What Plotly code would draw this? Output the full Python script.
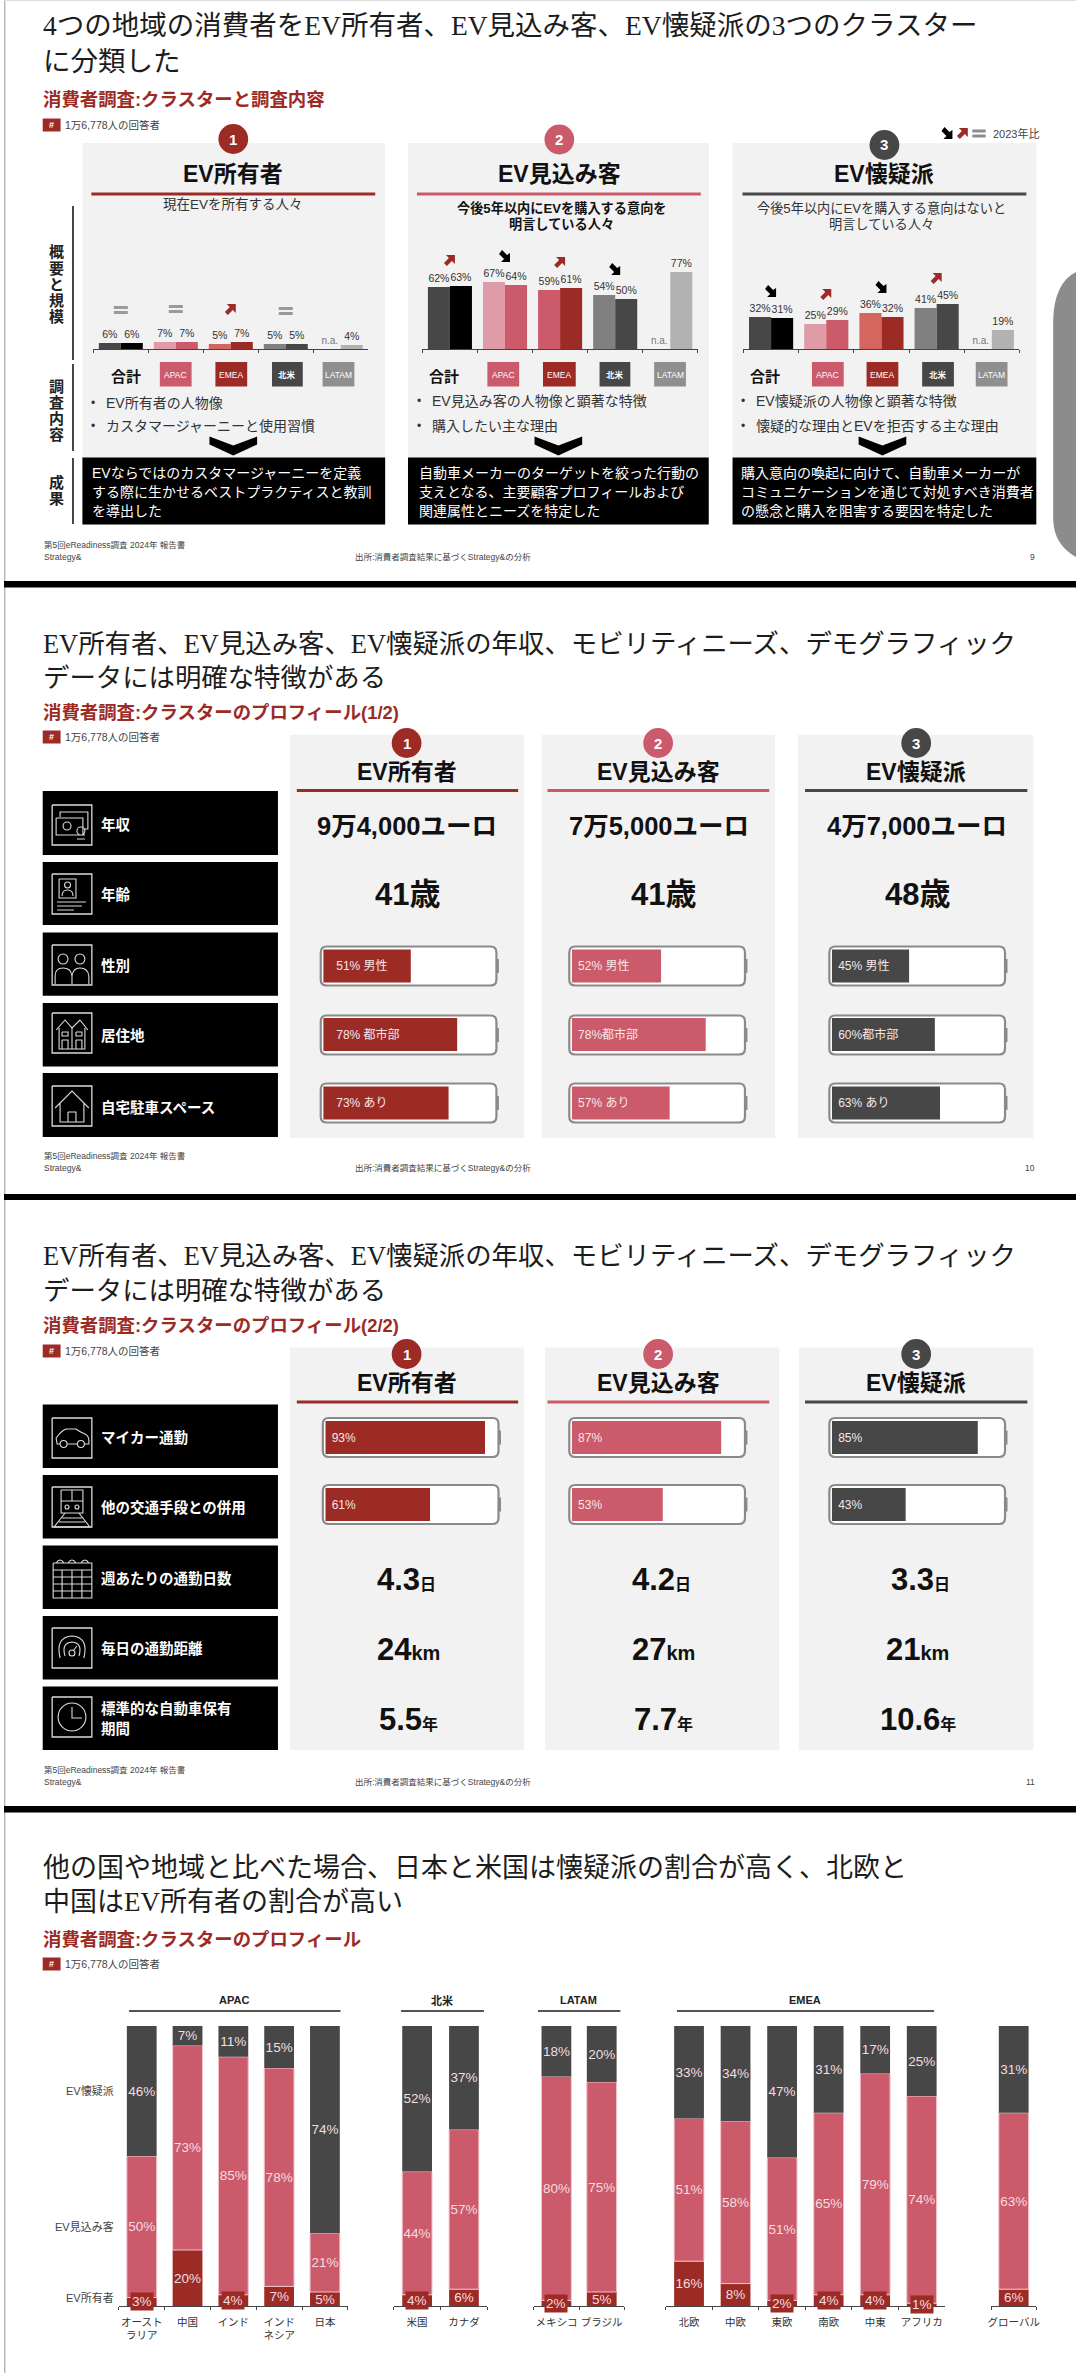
import re
import plotly.graph_objects as go

W, H = 1080, 2373
SANS = "'Liberation Sans','Noto Sans CJK JP'"
SERIF = "'Liberation Serif','Noto Sans CJK JP'"
RED, PINK, DARK, MID, LIGHT, LPINK, CORAL = "#9C2A25", "#CB5A6B", "#474747", "#808080", "#B2B2B2", "#E09BA8", "#D4655F"

# ---- data ----
regions = ["合計", "APAC", "EMEA", "北米", "LATAM"]
owners_2023 = [6, 7, 5, 5, 0]
owners_2024 = [6, 7, 7, 5, 4]
prospects_2023 = [62, 67, 59, 54, 0]
prospects_2024 = [63, 64, 61, 50, 77]
skeptics_2023 = [32, 25, 36, 41, 0]
skeptics_2024 = [31, 29, 32, 45, 19]
owners_trend = ["eq", "eq", "up", "eq", None]
prospects_trend = ["up", "down", "up", "down", None]
skeptics_trend = ["down", "up", "down", "up", None]

cluster_names = ["EV所有者", "EV見込み客", "EV懐疑派"]
income = ["9万4,000ユーロ", "7万5,000ユーロ", "4万7,000ユーロ"]
age = ["41歳", "41歳", "48歳"]
profile1_rows = ["性別", "居住地", "自宅駐車スペース"]
profile1_values = [[51, 78, 73], [52, 78, 57], [45, 60, 63]]
profile1_labels = [["51% 男性", "78% 都市部", "73% あり"], ["52% 男性", "78%都市部", "57% あり"], ["45% 男性", "60%都市部", "63% あり"]]
profile2_rows = ["マイカー通勤", "他の交通手段との併用"]
profile2_values = [[93, 61], [87, 53], [85, 43]]
commute_days = ["4.3", "4.2", "3.3"]
commute_km = ["24", "27", "21"]
holding_years = ["5.5", "7.7", "10.6"]

apac_names = ["オースト<br>ラリア", "中国", "インド", "インド<br>ネシア", "日本"]
apac_own = [3, 20, 4, 7, 5]
apac_pros = [50, 73, 85, 78, 21]
apac_skep = [46, 7, 11, 15, 74]
na_names = ["米国", "カナダ"]
na_own = [4, 6]
na_pros = [44, 57]
na_skep = [52, 37]
latam_names = ["メキシコ", "ブラジル"]
latam_own = [2, 5]
latam_pros = [80, 75]
latam_skep = [18, 20]
emea_names = ["北欧", "中欧", "東欧", "南欧", "中東", "アフリカ"]
emea_own = [16, 8, 2, 4, 4, 1]
emea_pros = [51, 58, 51, 65, 79, 74]
emea_skep = [33, 34, 47, 31, 17, 25]
global_names = ["グローバル"]
global_own = [6]
global_pros = [63]
global_skep = [31]

# ---- helpers ----
fig = go.Figure()
shapes, annos, axes = [], [], {}
nax = [0]


def px(x):
    return x / W


def py(y):
    return 1 - y / H


def rect(x0, y0, x1, y1, fill, layer="below", line=None, lw=0):
    shapes.append(dict(type="rect", xref="paper", yref="paper", x0=px(x0), x1=px(x1), y0=py(y0), y1=py(y1),
                       fillcolor=fill, layer=layer, line=dict(color=line or "rgba(0,0,0,0)", width=lw)))


def hline(x0, x1, y, color, lw=1, layer="below"):
    shapes.append(dict(type="line", xref="paper", yref="paper", x0=px(x0), x1=px(x1), y0=py(y), y1=py(y),
                       layer=layer, line=dict(color=color, width=lw)))


def vline(x, y0, y1, color, lw=1):
    shapes.append(dict(type="line", xref="paper", yref="paper", x0=px(x), x1=px(x), y0=py(y0), y1=py(y1),
                       layer="below", line=dict(color=color, width=lw)))


def circle(cx, cy, r, fill):
    shapes.append(dict(type="circle", xref="paper", yref="paper", x0=px(cx - r), x1=px(cx + r), y0=py(cy - r), y1=py(cy + r),
                       fillcolor=fill, layer="above", line=dict(width=0)))


def path(d, ox=0, oy=0, s=1, fill=None, color=None, lw=0, layer="below"):
    i = [0]

    def conv(m):
        v = float(m.group(0))
        i[0] += 1
        return f"{px(ox + v * s):.6f}" if i[0] % 2 == 1 else f"{py(oy + v * s):.6f}"
    d2 = re.sub(r"-?\d+\.?\d*", conv, d)
    shapes.append(dict(type="path", xref="paper", yref="paper", path=d2, fillcolor=fill or "rgba(0,0,0,0)",
                       layer=layer, line=dict(color=color or "rgba(0,0,0,0)", width=lw)))


def T(x, y, text, size=12, color="#222", anchor="center", bold=False, family=SANS, bg=None, vanchor="middle"):
    annos.append(dict(xref="paper", yref="paper", x=px(x), y=py(y), text=f"<b>{text}</b>" if bold else text,
                      showarrow=False, xanchor=anchor, yanchor=vanchor, align=anchor if anchor != "center" else "center",
                      font=dict(size=size, color=color, family=family), borderpad=0, bgcolor=bg))


def new_axes(x0, x1, y0, y1, xopts, yopts):
    nax[0] += 1
    n = "" if nax[0] == 1 else str(nax[0])
    axes[f"xaxis{n}"] = dict(domain=[px(x0), px(x1)], anchor=f"y{n}", fixedrange=True, **xopts)
    axes[f"yaxis{n}"] = dict(domain=[py(y1), py(y0)], anchor=f"x{n}", fixedrange=True, **yopts)
    return f"x{n}", f"y{n}"


def heading(text_lines, sub, y1, y2, ysub, ybadge):
    for (t, y, size) in text_lines:
        T(38, y, t, size=size, color="#1c1c1c", anchor="left", family=SERIF)
    T(38, ysub, sub, size=18.4, color=RED, anchor="left", bold=True)
    rect(39, ybadge - 6.5, 57, ybadge + 6.5, RED)
    T(48, ybadge, "#", size=9, color="#fff", bold=True)
    T(60, ybadge, "1万6,778人の回答者", size=10.5, color="#444", anchor="left")


def footer(y1, y2, page):
    T(39, y1, "第5回eReadiness調査 2024年 報告書", size=8.5, color="#444", anchor="left")
    T(39, y2, "Strategy&", size=8.5, color="#444", anchor="left")
    T(352.5, y2, "出所:消費者調査結果に基づくStrategy&の分析", size=8.5, color="#444", anchor="left")
    T(1040, y2, page, size=8.5, color="#444", anchor="right")


def circ(cx, cy, r):
    k = 0.55 * r
    return (f"M {cx - r} {cy} C {cx - r} {cy - k} {cx - k} {cy - r} {cx} {cy - r} C {cx + k} {cy - r} {cx + r} {cy - k} {cx + r} {cy} "
            f"C {cx + r} {cy + k} {cx + k} {cy + r} {cx} {cy + r} C {cx - k} {cy + r} {cx - r} {cy + k} {cx - r} {cy} ")


def box(a, b, c, d):
    return f"M {a} {b} L {c} {b} L {c} {d} L {a} {d} L {a} {b} "


ICONS = {
    "money": "M 8 12 L 8 7 L 36 7 L 36 24 L 32 24 " + box(4, 13, 31, 30) + circ(15, 21, 4) + circ(29, 26, 4) + "M 25 30 L 33 30 M 25 34 L 33 34 ",
    "person": box(7, 5, 24, 24) + circ(15.5, 11, 3) + "M 10 22 Q 10 16 15.5 16 Q 21 16 21 22 M 5 28 L 34 28 M 5 32 L 30 32 M 5 36 L 22 36 ",
    "gender": circ(11, 14, 5) + circ(28, 14, 5) + "M 3 39 L 3 31 Q 3 23 11 23 Q 19 23 20 31 L 20 39 M 20 31 Q 21 23 28 23 Q 36 23 37 31 L 37 39 ",
    "houses": "M 4 17 L 13 7 L 20 15 L 28 7 L 36 17 M 7 15 L 7 36 L 33 36 L 33 15 M 20 15 L 20 36 " + box(10, 19, 16, 23) + box(24, 19, 30, 23) + box(10, 27, 16, 36) + box(24, 27, 30, 36),
    "house": "M 3 22 L 20 5 L 37 22 M 8 17 L 8 36 L 32 36 L 32 17 " + box(16, 26, 24, 36),
    "car": "M 8 26 L 5 26 L 4 20 Q 9 13 14 11 L 24 11 Q 28 14 33 16 Q 38 18 37 26 L 33 26 M 15 26 L 25 26 " + circ(11.5, 26, 3.5) + circ(29, 26, 3.5),
    "train": box(9, 3, 31, 26) + "M 9 14 L 31 14 M 20 3 L 20 14 " + circ(15, 20, 2) + circ(25, 20, 2) + "M 13 26 L 2 40 L 38 40 L 27 26 M 10 31 L 30 31 M 7 35 L 33 35 ",
    "calendar": box(1, 5, 40, 40) + "M 1 12 L 40 12 M 1 19 L 40 19 M 1 26 L 40 26 M 1 33 L 40 33 M 10 12 L 10 40 M 20 12 L 20 40 M 30 12 L 30 40 M 4 5 Q 8 -1 12 5 M 16 5 Q 20 -1 24 5 M 29 5 Q 33 -1 37 5 ",
    "gauge": "M 8 30 Q 3 9 20 8 Q 37 9 32 30 M 13 28 Q 9 15 20 14 Q 31 15 27 28 " + circ(20, 25, 3) + "M 21 23 L 25 18 ",
    "clock": circ(20, 20, 14) + "M 20 10 L 20 21 L 30 21 ",
}

ARROW_DOWN = "M -3 6 L 2 1 L 5 3 L 5 -6 L -4 -6 L -1 -3 L -6 2 Z"
ARROW_UP = "M -6 -3 L -1 2 L -4 5 L 5 5 L 5 -4 L 2 -1 L -3 -6 Z"


def label_box(y0, y1, lines, icon, iy, framed=True):
    rect(39, y0, 276, y1, "#000000")
    if framed:
        path(box(0, 0, 40, 40), 48.5, iy, 1, color="#dcdcdc", lw=1.3)
    path(ICONS[icon], 48.5, iy, 1, color="#dcdcdc", lw=1.1)
    for (t, y) in lines:
        T(96.5, y, t, size=14.5, color="#fff", anchor="left", bold=True)


def battery(x0, y0, x1, y1):
    r = 6
    d = (f"M {x0 + r} {y0} L {x1 - r} {y0} Q {x1} {y0} {x1} {y0 + r} L {x1} {y1 - r} Q {x1} {y1} {x1 - r} {y1} "
         f"L {x0 + r} {y1} Q {x0} {y1} {x0} {y1 - r} L {x0} {y0 + r} Q {x0} {y0} {x0 + r} {y0} Z")
    path(d, fill="#FFFFFF", layer="below")
    path(d, color="#8a8a8a", lw=2.2, layer="above")
    rect(x1, (y0 + y1) / 2 - 7, x1 + 2.5, (y0 + y1) / 2 + 7, "#8a8a8a", layer="above")


def cluster_header(xc, ycirc, yhead, yrule, rx0, rx1, i, size=23):
    color = [RED, PINK, DARK][i]
    circle(xc, ycirc, 15, color)
    T(xc, ycirc, str(i + 1), size=15, color="#fff", bold=True)
    T(xc, yhead, cluster_names[i], size=size, color="#111", bold=True)
    hline(rx0, rx1, yrule, color, lw=3)


def arrow_icon(cx, cy, col, down):
    d = "M -3 -6 L 2 -1 L 5 -3 L 5 6 L -4 6 L -1 3 L -6 -2 Z" if down else "M -6 3 L -1 -2 L -4 -5 L 5 -5 L 5 4 L 2 1 L -3 6 Z"
    path(d, cx, cy, 1, fill=col, layer="above")


def trend_glyph(xa, ya, cat, val, d, col):
    shapes.append(dict(type="path", xref=xa, yref=ya, xsizemode="pixel", ysizemode="pixel", xanchor=cat, yanchor=val,
                       path=d, fillcolor=col, layer="above", line=dict(width=0)))


# ---- separators & frame ----
vline(0.7, 0, 2373, "#b5b5b5", 1.4)
rect(0, 581, 1080, 587.5, "#000000", layer="above")
rect(0, 1194, 1080, 1200, "#000000", layer="above")
rect(0, 1806, 1080, 1812.5, "#000000", layer="above")
hline(0, 1080, 0.5, "#dddddd", 1)

# ---- slide 1 ----
heading([("4つの地域の消費者をEV所有者、EV見込み客、EV懐疑派の3つのクラスター", 26, 27.5), ("に分類した", 61, 27.5)],
        "消費者調査:クラスターと調査内容", 0, 0, 99.5, 125)
path("M 1080 272 Q 1058 283 1057 320 L 1057 520 Q 1058 545 1080 557 Z", fill="#8C8C8C", layer="below")
panel_x = [(79, 384), (407, 710), (734, 1040)]
for (a, b) in panel_x:
    rect(a, 143, b, 524.5, "#F2F2F2")
    rect(a, 457.5, b, 524.5, "#000000")
cluster_header(231, 139, 174, 194, 88, 374, 0)
cluster_header(559.5, 139.5, 174, 194, 416, 702, 1)
cluster_header(887, 145, 174, 194, 744, 1030, 2)
T(231, 205, "現在EVを所有する人々", size=13.5, color="#333")
T(562, 208, "今後5年以内にEVを購入する意向を", size=13.2, color="#111", bold=True)
T(562, 224, "明言している人々", size=13.2, color="#111", bold=True)
T(884, 208, "今後5年以内にEVを購入する意向はないと", size=13.2, color="#333")
T(884, 224, "明言している人々", size=13.2, color="#333")

arrow_icon(950.5, 133, "#000000", True)
arrow_icon(966, 133, RED, False)
rect(975.5, 129.5, 989, 132.5, "#8C8C8C", layer="above")
rect(975.5, 134.5, 989, 137.5, "#8C8C8C", layer="above")
T(995, 133.5, "2023年比", size=11, color="#444", anchor="left")

for (ch, x, y0) in [("概要と規模", 53, 252), ("調査内容", 53, 386), ("成果", 53, 482)]:
    for k, c in enumerate(ch):
        T(x, y0 + k * 16.2, c, size=15, color="#222", bold=True)
vline(69.5, 206, 360, "#333", 1.8)
vline(69.5, 364, 451, "#333", 1.8)
vline(69.5, 458, 524, "#333", 1.8)

chart_specs = [
    (90, 367, owners_2023, owners_2024, owners_trend, 33, [DARK, LPINK, CORAL, MID, LIGHT], ["#000000", PINK, RED, DARK, LIGHT]),
    (421.5, 699, prospects_2023, prospects_2024, prospects_trend, 26, [DARK, LPINK, PINK, MID, LIGHT], ["#000000", PINK, RED, DARK, LIGHT]),
    (745, 1023, skeptics_2023, skeptics_2024, skeptics_trend, 26, [DARK, LPINK, CORAL, MID, LIGHT], ["#000000", PINK, RED, DARK, LIGHT]),
]
for (x0, x1, v23, v24, trend, off, c23, c24) in chart_specs:
    xa, ya = new_axes(x0, x1, 249, 349,
                      dict(type="category", categoryorder="array", categoryarray=regions, range=[-0.5, 4.5], tickson="boundaries",
                           ticks="outside", ticklen=3, tickwidth=1, tickcolor="#444", showline=True, linecolor="#444",
                           linewidth=1, showticklabels=False, showgrid=False, zeroline=False),
                      dict(range=[0, 100], visible=False))
    fig.add_bar(x=regions, y=v23, xaxis=xa, yaxis=ya, width=0.4, offset=-0.4, marker=dict(color=c23, line=dict(width=0)),
                text=[f"{v}%" if v else "n.a." for v in v23], textposition="outside", cliponaxis=False,
                textfont=dict(size=[10.5 if v else 10 for v in v23], color=["#333" if v else "#777" for v in v23], family=SANS),
                constraintext="none", hoverinfo="skip")
    fig.add_bar(x=regions, y=v24, xaxis=xa, yaxis=ya, width=0.4, offset=0, marker=dict(color=c24, line=dict(width=0)),
                text=[f"{v}%" for v in v24], textposition="outside", cliponaxis=False,
                textfont=dict(size=10.5, color="#333", family=SANS), constraintext="none", hoverinfo="skip")
    for r, a, b, t in zip(regions, v23, v24, trend):
        if t == "up":
            trend_glyph(xa, ya, r, max(a, b) + off, ARROW_UP, RED)
        elif t == "down":
            trend_glyph(xa, ya, r, max(a, b) + off, ARROW_DOWN, "#000000")
        elif t == "eq":
            trend_glyph(xa, ya, r, max(a, b) + off, "M -7 1 L 7 1 L 7 4 L -7 4 Z M -7 -4 L 7 -4 L 7 -1 L -7 -1 Z", "#9A9A9A")

chip_cols = [PINK, RED, DARK, "#8F8F8F"]
chip_sets = [
    (122.6, [(157, 189), (213, 245), (270, 301), (321, 353)]),
    (443, [(487, 519), (543, 576), (600, 631), (655, 687)]),
    (767, [(814, 846), (869, 901), (925, 957), (979, 1011)]),
]
for (xt, chips) in chip_sets:
    T(xt, 376, regions[0], size=15, color="#111", bold=True)
    for (a, b), col, name in zip(chips, chip_cols, regions[1:]):
        rect(a, 362, b, 386.5, col)
        T((a + b) / 2, 374.5, name, size=8.5, color="#fff", bold=name == "北米")

bullets = [
    (89.5, 102, 402.5, 426, "EV所有者の人物像", "カスタマージャーニーと使用習慣"),
    (418, 430, 401, 426, "EV見込み客の人物像と顕著な特徴", "購入したい主な理由"),
    (745, 757, 401, 426, "EV懐疑派の人物像と顕著な特徴", "懐疑的な理由とEVを拒否する主な理由"),
]
for (bx, tx, y1, y2, s1, s2) in bullets:
    for y, s in ((y1, s1), (y2, s2)):
        T(bx, y, "•", size=12, color="#333")
        T(tx, y, s, size=14, color="#333", anchor="left")
for cx in (231, 558.5, 885):
    path("M -24 0 L 0 9 L 24 0 L 24 8 L 0 19 L -24 8 Z", cx, 436.5, 1, fill="#000000", layer="above")

black_text = [
    (87.5, ["EVならではのカスタマージャーニーを定義", "する際に生かせるベストプラクティスと教訓", "を導出した"]),
    (416.7, ["自動車メーカーのターゲットを絞った行動の", "支えとなる、主要顧客プロフィールおよび", "関連属性とニーズを特定した"]),
    (741, ["購入意向の喚起に向けて、自動車メーカーが", "コミュニケーションを通じて対処すべき消費者", "の懸念と購入を阻害する要因を特定した"]),
]
for (x, lines) in black_text:
    for y, s in zip((473, 492, 510.5), lines):
        T(x, y, s, size=14, color="#fff", anchor="left")
footer(545, 556.5, "9")

# ---- slide 2 ----
LINES_A = "EV所有者、EV見込み客、EV懐疑派の年収、モビリティニーズ、デモグラフィック"
heading([(LINES_A, 643.5, 26.4), ("データには明確な特徴がある", 678, 26.4)],
        "消費者調査:クラスターのプロフィール(1/2)", 0, 0, 712.5, 737)
p2 = [(288, 524), (541.5, 777), (800, 1037)]
centers = [405.6, 659, 919]
rules = [(295, 518), (547.5, 771), (807, 1031)]
for i, (a, b) in enumerate(p2):
    rect(a, 734.7, b, 1138, "#F2F2F2")
    cluster_header(centers[i], 743, 772, 790.5, rules[i][0], rules[i][1], i)
    T(centers[i] + 0.5, 826, income[i], size=25.5, color="#111", bold=True)
    T([407, 664, 920][i], 895, age[i], size=31, color="#111", bold=True)

rows2 = [(791, 855, "年収", 824, "money", 805), (862, 925, "年齢", 895, "person", 874), (932.5, 995.7, "性別", 966, "gender", 945),
         (1003, 1066.5, "居住地", 1036, "houses", 1013), (1073, 1137, "自宅駐車スペース", 1107, "house", 1086)]
for (y0, y1, t, yt, ic, iy) in rows2:
    label_box(y0, y1, [(t, yt)], ic, iy)

fills2 = [321.6, 572, 834]
for i in range(3):
    for yc in (966, 1035, 1103):
        battery(fills2[i] - 2.5, yc - 19.5, fills2[i] + 174.5, yc + 19.5)
    xa, ya = new_axes(fills2[i], fills2[i] + 173, 931.75, 1137.25,
                      dict(range=[0, 100], visible=False),
                      dict(type="category", categoryorder="array", categoryarray=profile1_rows[::-1], range=[-0.5, 2.5], visible=False))
    pad = "\u00a0" * (3 if i == 0 else 1)
    fig.add_bar(y=profile1_rows, x=profile1_values[i], orientation="h", xaxis=xa, yaxis=ya, width=0.48,
                marker=dict(color=[RED, PINK, DARK][i], line=dict(width=0)), text=[pad + s for s in profile1_labels[i]],
                textposition="inside", insidetextanchor="start", textangle=0, constraintext="none",
                textfont=dict(size=12, color="#F6E6E6", family=SANS), hoverinfo="skip")
footer(1156.5, 1168.5, "10")

# ---- slide 3 ----
heading([(LINES_A, 1256, 26.4), ("データには明確な特徴がある", 1291, 26.4)],
        "消費者調査:クラスターのプロフィール(2/2)", 0, 0, 1325.5, 1351)
p3 = [(288, 524), (545, 781), (801, 1037)]
for i, (a, b) in enumerate(p3):
    rect(a, 1347.6, b, 1750, "#F2F2F2")
    cluster_header(centers[i], 1354, 1382.5, 1402, rules[i][0], rules[i][1], i)


def big(x, y, num, unit):
    T(x, y, f'<b>{num}</b><span style="font-size:{20 if unit == "km" else 16}px"><b>{unit}</b></span>', size=31, color="#111")


for i in range(3):
    big([405.6, 662.5, 923][i], 1579, commute_days[i], "日")
    big([408, 664.6, 920][i], 1649, commute_km[i], "km")
    big([408, 664.6, 921][i], 1719, holding_years[i], "年")

rows3 = [(1404.4, 1468, [("マイカー通勤", 1437)], "car", 1418), (1475, 1538.6, [("他の交通手段との併用", 1507.5)], "train", 1487),
         (1545.6, 1609, [("週あたりの通勤日数", 1578)], "calendar", 1558), (1616, 1679.5, [("毎日の通勤距離", 1648.5)], "gauge", 1628),
         (1686.5, 1750, [("標準的な自動車保有", 1708.5), ("期間", 1729)], "clock", 1697)]
for (y0, y1, lines, ic, iy) in rows3:
    label_box(y0, y1, lines, ic, iy, framed=ic != "calendar")

fills3 = [323.7, 572, 834]
for i in range(3):
    for yc in (1437.5, 1504.5):
        battery(fills3[i] - 2.5, yc - 19.5, fills3[i] + 174.5, yc + 19.5)
    xa, ya = new_axes(fills3[i], fills3[i] + 173, 1404, 1538,
                      dict(range=[0, 100], visible=False),
                      dict(type="category", categoryorder="array", categoryarray=profile2_rows[::-1], range=[-0.5, 1.5], visible=False))
    fig.add_bar(y=profile2_rows, x=profile2_values[i], orientation="h", xaxis=xa, yaxis=ya, width=0.49,
                marker=dict(color=[RED, PINK, DARK][i], line=dict(width=0)), text=["\u00a0" + f"{v}%" for v in profile2_values[i]],
                textposition="inside", insidetextanchor="start", textangle=0, constraintext="none",
                textfont=dict(size=12, color="#F6E6E6", family=SANS), hoverinfo="skip")
footer(1770, 1781.5, "11")

# ---- slide 4 ----
heading([("他の国や地域と比べた場合、日本と米国は懐疑派の割合が高く、北欧と", 1867.5, 27), ("中国はEV所有者の割合が高い", 1901.5, 27)],
        "消費者調査:クラスターのプロフィール", 0, 0, 1939, 1964)
for (t, a, b, c) in [("APAC", 126, 339, 232), ("北米", 400, 483.5, 441.5), ("LATAM", 538, 621, 579), ("EMEA", 678, 937, 807)]:
    T(c, 2000, t, size=11, color="#222", bold=True)
    hline(a, b, 2011, "#555", 2)
for (t, y) in [("EV懐疑派", 2090.5), ("EV見込み客", 2226), ("EV所有者", 2297)]:
    T(112, y, t, size=11, color="#444", anchor="right")

groups = [
    (115.7, 346.4, apac_names, apac_own, apac_pros, apac_skep),
    (392.6, 487, na_names, na_own, na_pros, na_skep),
    (533.7, 625, latam_names, latam_own, latam_pros, latam_skep),
    (666.7, 948, emea_names, emea_own, emea_pros, emea_skep),
    (994.5, 1040, global_names, global_own, global_pros, global_skep),
]
for (x0, x1, names, own, pros, skep) in groups:
    n = len(names)
    xa, ya = new_axes(x0, x1, 2026, 2306,
                      dict(type="category", categoryorder="array", categoryarray=names, range=[-0.5, n - 0.5], tickson="boundaries",
                           ticks="outside", ticklen=3, tickwidth=1, tickcolor="#444", showline=True, linecolor="#444", linewidth=1.2,
                           showgrid=False, zeroline=False, tickangle=0, ticklabelstandoff=6,
                           tickfont=dict(size=10.5, color="#333", family=SANS)),
                      dict(range=[0, 100], visible=False))
    width = 30 / ((x1 - x0) / n)
    totals = [a + b + c for a, b, c in zip(own, pros, skep)]
    p_own = [v / t * 100 for v, t in zip(own, totals)]
    p_pros = [v / t * 100 for v, t in zip(pros, totals)]
    p_skep = [v / t * 100 for v, t in zip(skep, totals)]
    base_pros = p_own
    base_skep = [a + b for a, b in zip(p_own, p_pros)]
    common = dict(xaxis=xa, yaxis=ya, width=width, offset=-width / 2, textposition="inside", insidetextanchor="middle",
                  textangle=0, constraintext="none", cliponaxis=False, hoverinfo="skip",
                  textfont=dict(size=13.5, color="#F3DDE0", family=SANS))
    fig.add_bar(x=names, y=p_own, base=[0] * n, marker=dict(color=RED, line=dict(width=0)),
                text=[f"{v}%" if v > 4 else "" for v in own], **common)
    fig.add_bar(x=names, y=p_pros, base=base_pros, marker=dict(color=PINK, line=dict(color="#F0C4CB", width=1)),
                text=[f"{v}%" for v in pros], **common)
    fig.add_bar(x=names, y=p_skep, base=base_skep, marker=dict(color=DARK, line=dict(width=0)),
                text=[f"{v}%" for v in skep], **common)
    for name, v, p in zip(names, own, p_own):
        if v <= 4:
            annos.append(dict(xref=xa, yref=ya, x=name, y=p / 2, text=f"{v}%", showarrow=False, bgcolor=RED, borderpad=1,
                              font=dict(size=13.5, color="#F3DDE0", family=SANS)))

# ---- layout ----
fig.update_layout(width=W, height=H, margin=dict(l=0, r=0, t=0, b=0), autosize=False, showlegend=False,
                  paper_bgcolor="#FFFFFF", plot_bgcolor="rgba(0,0,0,0)", barmode="group", hovermode=False,
                  font=dict(family=SANS), shapes=shapes, annotations=annos, **axes)
fig.write_html("out.html", config=dict(displayModeBar=False),
               post_script="document.body.style.margin='0';document.body.style.overflow='hidden';")
